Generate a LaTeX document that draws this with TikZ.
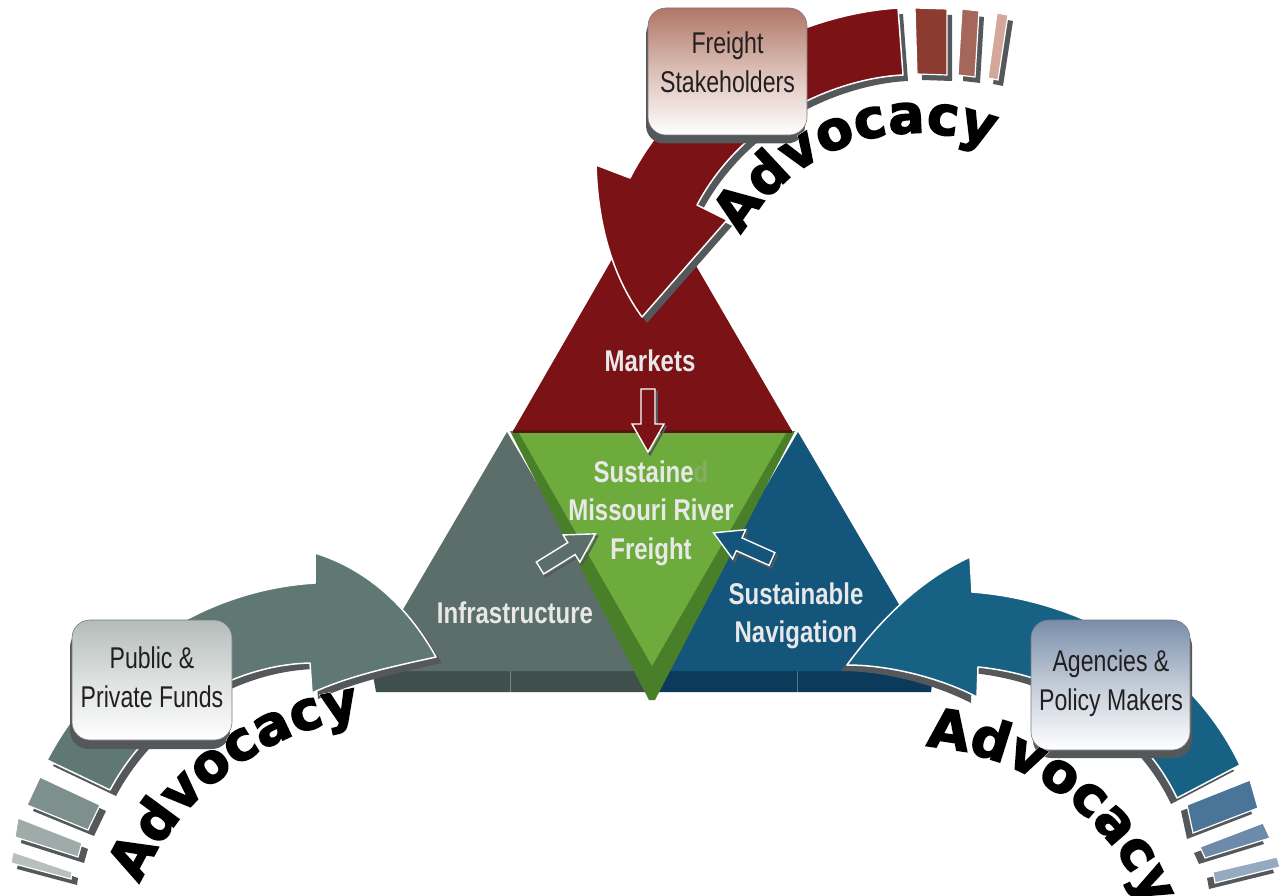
\documentclass[tikz,border=0pt]{standalone}
\usepackage{fontspec}
\usetikzlibrary{decorations.text}
\newfontfamily\labelfont[FakeStretch=0.8]{Liberation Sans}
\newfontfamily\boxfont[FakeStretch=0.77]{Liberation Sans}
\newfontfamily\advfont[FakeBold=2.5]{DejaVu Sans Bold}
\definecolor{mred}{HTML}{7A1216}
\definecolor{mredline}{HTML}{5A1410}
\definecolor{mgreen}{HTML}{6DAC3C}
\definecolor{mdgreen}{HTML}{4A7F2A}
\definecolor{sgreen}{HTML}{86AD62}
\definecolor{mgray}{HTML}{5B6E6A}
\definecolor{mgrayarrow}{HTML}{607873}
\definecolor{mgrayslab}{HTML}{3E4F4C}
\definecolor{mblue}{HTML}{13557B}
\definecolor{mbluearrow}{HTML}{176185}
\definecolor{mblueslab}{HTML}{0B3A5A}
\definecolor{shadowgray}{HTML}{55585A}
\definecolor{labeltext}{HTML}{E8E8E8}
\definecolor{boxtext}{HTML}{231F20}
\definecolor{boxedge}{HTML}{7A7A7A}
\definecolor{rsa}{HTML}{8B3B30}
\definecolor{rsb}{HTML}{A5675A}
\definecolor{rsc}{HTML}{D3A89B}
\definecolor{gsa}{HTML}{7D908C}
\definecolor{gsb}{HTML}{9EABA8}
\definecolor{gsc}{HTML}{B7C0BD}
\definecolor{bsa}{HTML}{4B7499}
\definecolor{bsb}{HTML}{6E8AAB}
\definecolor{bsc}{HTML}{95A9C1}
\definecolor{fstop}{HTML}{B07666}
\definecolor{fsmid}{HTML}{DCC0B7}
\definecolor{pptop}{HTML}{B4BCBA}
\definecolor{ppmid}{HTML}{DDE1E0}
\definecolor{aptop}{HTML}{7A8EAA}
\definecolor{apmid}{HTML}{C3CCD9}

\newcommand\stripe[3]{%
  \fill[shadowgray, shift={#2}] #3 -- cycle;
  \filldraw[fill=#1, draw=white, line width=1.2pt] #3 -- cycle;}

\newcommand\smallarrow[4]{%
  \begin{scope}[shift={#1}, shift={(2,2.5)}, rotate=#2]
    \draw[shadowgray, line width=1.8pt, line join=miter]
      (0,-7) -- ({#3-28},-7) -- ({#3-28},-16) -- (#3,0) -- ({#3-28},16) -- ({#3-28},7) -- (0,7) -- cycle;
  \end{scope}
  \begin{scope}[shift={#1}, rotate=#2]
    \filldraw[fill=#4, draw=white, line width=1.4pt, line join=miter]
      (0,-7) -- ({#3-28},-7) -- ({#3-28},-16) -- (#3,0) -- ({#3-28},16) -- ({#3-28},7) -- (0,7) -- cycle;
  \end{scope}}

\newcommand\advocacy[5]{%
  \foreach \dx/\dy/\col in {4/5/shadowgray, -1.8/0/white, 1.8/0/white, 0/-1.8/white, 0/1.8/white,
      -1.3/-1.3/white, 1.3/1.3/white, -1.3/1.3/white, 1.3/-1.3/white, 0/0/black}{
    \path[transform canvas={shift={(\dx,\dy)}}, decorate,
      decoration={text along path, text align=center,
        text={|\advfont\fontsize{54}{60}\selectfont\color{\col}|Advocacy}}]
      (#1,#2) ++(#4:#3) arc[start angle=#4, end angle=#5, radius=#3];
  }}

\begin{document}
\begin{tikzpicture}[x=1pt, y=-1pt,
  band/.style={draw=white, line width=1.5pt, line join=round},
  boxface/.style={rounded corners=18pt, draw=boxedge, line width=0.6pt, inner sep=0pt},
  boxshade/.style={rounded corners=18pt, fill=shadowgray, inner sep=0pt},
  boxlabel/.style={font=\boxfont\fontsize{30}{39}\selectfont, text=boxtext, align=center, inner sep=0pt},
  trilabel/.style={font=\labelfont\bfseries\fontsize{30}{38.5}\selectfont, text=labeltext, align=center, inner sep=0pt}]
\useasboundingbox (0,0) rectangle (1287,896);
\fill[white] (0,0) rectangle (1287,896);

% base slabs
\fill[mgrayslab] (372,670) -- (646,670) -- (646,692) -- (376,692) -- cycle;
\draw[mgrayslab!70!white, line width=0.5pt] (510,671) -- (510,692);
\fill[mblueslab] (659,670) -- (934,670) -- (931,692) -- (659,692) -- cycle;
\draw[mblueslab!70!white, line width=0.5pt] (797,671) -- (797,692);

% side triangles
\fill[mgray] (507,432) -- (647,671) -- (367,671) -- cycle;
\fill[mblue] (798,432) -- (938,671) -- (658,671) -- cycle;
% top triangle
\fill[mred] (513,431) -- (652,190) -- (792,431) -- cycle;
% centre triangle
\fill[mdgreen] (510,431) -- (795,431) -- (655,700) -- (649,700) -- cycle;
\fill[mgreen] (519,433) -- (786,433) -- (652,666) -- cycle;
\draw[mredline, line width=2.5pt] (513,431.5) -- (792,431.5);

% small arrows
\smallarrow{(648,389)}{-90}{63}{mred}
\smallarrow{(540,568)}{31.7}{65}{mgray}
\smallarrow{(772,559)}{155.9}{64}{mblue}

% triangle labels
\node[trilabel] (markets) at (650,361) {Markets};
\node[trilabel] (freightlabel) at (651,513) {Sustaine{\color{sgreen}d}\\Missouri River\\Freight};
\node[trilabel] (infra) at (515,613) {Infrastructure};
\node[trilabel] (nav) at (796,616) {Sustainable\\Navigation};

% curved arrows
\def\topband{(898,8) -- (903,75) .. controls (840,78) and (745,115) .. (697,205) -- (727,220) -- (642,317) .. controls (615,280) and (598,230) .. (596,165) -- (630,178) .. controls (680,80) and (790,15) .. (898,8) -- cycle}
\def\leftband{(47,760) .. controls (100,660) and (200,590) .. (315,583) -- (315,553) .. controls (370,570) and (410,610) .. (436,657) .. controls (400,665) and (350,675) .. (312,693) -- (310,663) .. controls (230,665) and (150,715) .. (110,790) -- cycle}
\def\rightband{(972,592) .. controls (1080,600) and (1190,660) .. (1240,765) -- (1177,798) .. controls (1140,720) and (1060,675) .. (978,667) -- (977,697) .. controls (940,678) and (890,665) .. (847,665) .. controls (880,620) and (920,580) .. (970,557) -- cycle}

\fill[shadowgray, shift={(5,6)}] \topband;
\filldraw[band, fill=mred] \topband;
\fill[shadowgray, shift={(6,6)}] \leftband;
\filldraw[band, fill=mgrayarrow] \leftband;
\fill[shadowgray, shift={(-6,6)}] \rightband;
\filldraw[band, fill=mbluearrow] \rightband;

% stripes
\stripe{rsa}{(5,6)}{(915,8) -- (947,9) -- (947,75) -- (917,74)}
\stripe{rsb}{(5,6)}{(962,9) -- (979,11) -- (975,77) -- (958,75)}
\stripe{rsc}{(5,6)}{(997,13) -- (1008,15) -- (998,80) -- (988,78)}
\stripe{gsa}{(6,6)}{(40,777) -- (100,805) -- (88,830) -- (27,805)}
\stripe{gsb}{(6,6)}{(18,818) -- (82,843) -- (78,857) -- (15,837)}
\stripe{gsc}{(6,6)}{(13,852) -- (72,872) -- (71,879) -- (11,863)}
\stripe{bsa}{(-6,6)}{(1187,805) -- (1250,780) -- (1258,808) -- (1193,833)}
\stripe{bsb}{(-6,6)}{(1200,847) -- (1263,823) -- (1270,838) -- (1205,858)}
\stripe{bsc}{(-6,6)}{(1213,872) -- (1277,857) -- (1280,867) -- (1215,883)}

% boxes
\node[boxshade, minimum width=159pt, minimum height=127pt] (fsshadow) at (725.5,80) {};
\node[boxface, minimum width=159pt, minimum height=127pt, top color=fstop, bottom color=white, middle color=fsmid] (fsbox) at (727.5,71.5) {};
\node[boxlabel] (fstext) at (727.5,62.5) {Freight\\Stakeholders};

\node[boxshade, minimum width=160pt, minimum height=120pt] (ppshadow) at (150,689) {};
\node[boxface, minimum width=160pt, minimum height=120pt, top color=pptop, bottom color=white, middle color=ppmid] (ppbox) at (152,680) {};
\node[boxlabel] (pptext) at (152,677.5) {Public \&\\Private Funds};

\node[boxshade, minimum width=159pt, minimum height=130pt] (apshadow) at (1112.5,693) {};
\node[boxface, minimum width=159pt, minimum height=130pt, top color=aptop, bottom color=white, middle color=apmid] (apbox) at (1110.5,685) {};
\node[boxlabel] (aptext) at (1111,683) {Agencies \&\\Policy Makers};

% Advocacy texts
\advocacy{917}{335}{202}{190}{311}
\advocacy{400}{1000}{285}{173}{293}
\advocacy{909}{1002}{256}{246}{366}
\end{tikzpicture}
\end{document}
